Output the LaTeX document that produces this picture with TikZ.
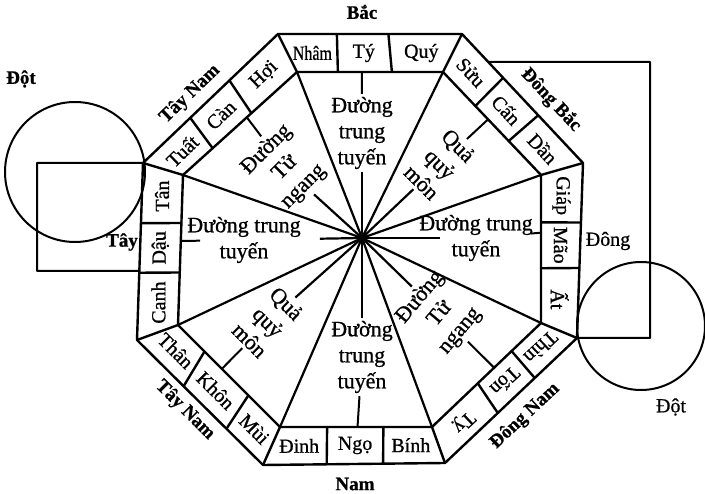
\documentclass[tikz,border=0pt]{standalone}
\usepackage{fontspec}
\setmainfont{Liberation Serif}[FakeBold=0.8]
\usepackage{graphicx}
\usetikzlibrary{calc}
\newcommand\narrow[1]{\scalebox{0.8}[1]{#1}}

\begin{document}
\begin{tikzpicture}[ x=1pt, y=-1pt, line join=round, frame/.style={ line width=2.4pt }, spoke/.style={ line width=2.2pt }, tick/.style={ line width=2pt }, loop/.style={ line width=2pt }, cell/.style={ inner sep=0pt, font=\fontsize{20}{20}\selectfont }, sector/.style={ align=center, inner sep=3pt, font=\fontsize{22}{26}\selectfont }, compass/.style={ font=\fontsize{19}{19}\selectfont\bfseries }, plain/.style={ font=\fontsize{20}{20}\selectfont } ]
\useasboundingbox (0,0) rectangle (705,494);

% --- Dinh bat quai ---
\coordinate (c) at (362,238);
\coordinate (o1) at (278,34); \coordinate (o2) at (462,34); \coordinate (o3) at (583,163); \coordinate (o4) at (577,338);
\coordinate (o5) at (445,463); \coordinate (o6) at (263,465); \coordinate (o7) at (137,340); \coordinate (o8) at (143,163);
\coordinate (i1) at (297,72); \coordinate (i2) at (443,72); \coordinate (i3) at (541,175); \coordinate (i4) at (541,323);
\coordinate (i5) at (432,427); \coordinate (i6) at (280,427); \coordinate (i7) at (178,325); \coordinate (i8) at (183,175);

% --- Khung ---
\draw[frame] (o1) -- (o2) -- (o3) -- (o4) -- (o5) -- (o6) -- (o7) -- (o8) -- cycle;
\draw[frame] (i1) -- (i2) -- (i3) -- (i4) -- (i5) -- (i6) -- (i7) -- (i8) -- cycle;
\foreach \k in {1,...,8} \draw[frame] (i\k) -- (o\k);
\foreach \k in {1,...,8} \draw[spoke] (c) -- (i\k);

% --- O can chi ---
\foreach \A/\B/\P/\Q/\sa/\sb/\ta/\tb/\r/\la/\lb/\lc/\n in { i1/i2/o1/o2/0.28/0.65/0.32/0.60/0/\narrow{Nhâm}/Tý/Quý/n, i2/i3/o2/o3/0.33/0.67/0.34/0.63/-47/Sửu/Cấn/Dần/ne, i3/i4/o3/o4/0.32/0.63/0.34/0.60/-90/Giáp/Mão/Ất/e, i4/i5/o4/o5/0.27/0.58/0.32/0.60/223/Thìn/Tốn/Tỵ/se, i5/i6/o5/o6/0.32/0.69/0.34/0.65/0/Bính/Ngọ/Đinh/s, i6/i7/o6/o7/0.31/0.74/0.29/0.63/-45/Mùi/Khôn/Thân/sw, i7/i8/o7/o8/0.35/0.68/0.38/0.66/90/Canh/Dậu/Tân/w, i8/i1/o8/o1/0.26/0.60/0.35/0.64/44/Tuất/Càn/Hợi/nw }
{
\draw[frame] ($(\A)!\sa!(\B)$) -- ($(\P)!\ta!(\Q)$) ($(\A)!\sb!(\B)$) -- ($(\P)!\tb!(\Q)$);
\node[cell, rotate=\r] (\n-1) at ($($(\A)!{\sa/2}!(\B)$)!.5!($(\P)!{\ta/2}!(\Q)$)$) {\la};
\node[cell, rotate=\r] (\n-2) at ($($(\A)!{(\sa+\sb)/2}!(\B)$)!.5!($(\P)!{(\ta+\tb)/2}!(\Q)$)$) {\lb};
\node[cell, rotate=\r] (\n-3) at ($($(\A)!{(\sb+1)/2}!(\B)$)!.5!($(\P)!{(\tb+1)/2}!(\Q)$)$) {\lc};
}

% --- Duong trung tuyen / tu ngang / qua quy mon ---
\node[sector] (lN) at (362,133) {Đường\\trung\\tuyến};
\node[sector, rotate=-45] (lNE) at (440,164) {Quả\\quỷ\\môn};
\node[sector] (lE) at (476,238) {Đường trung\\tuyến};
\node[sector, rotate=50] (lSE) at (440,314) {Đường\\Tử\\ngang};
\node[sector] (lS) at (362,357) {Đường\\trung\\tuyến};
\node[sector, rotate=-45] (lSW) at (268,322) {Quả\\quỷ\\môn};
\node[sector] (lW) at (244,240) {Đường trung\\tuyến};
\node[sector, rotate=45] (lNW) at (285,168) {Đường\\Tử\\ngang};

\coordinate (tN) at ($(i1)!0.445!(i2)$); \coordinate (tNE) at ($(i2)!0.46!(i3)$); \coordinate (tE) at ($(i3)!0.39!(i4)$); \coordinate (tSE) at ($(i4)!0.43!(i5)$);
\coordinate (tS) at ($(i5)!0.49!(i6)$); \coordinate (tSW) at ($(i6)!0.57!(i7)$); \coordinate (tW) at ($(i7)!0.56!(i8)$); \coordinate (tNW) at ($(i8)!0.56!(i1)$);

\foreach \d in {N,NE,SE,S,SW,NW} { \draw[spoke] (c) -- (l\d); \draw[tick] (t\d) -- (l\d); }
\draw[spoke, shorten >=-24pt] (c) -- (lE); \draw[tick, shorten >=-5pt] (tE) -- (lE);
\draw[spoke, shorten >=16pt] (c) -- (lW); \draw[tick, shorten >=-16pt] (tW) -- (lW);

% --- Dot ---
\coordinate (dl) at (75,172); \coordinate (dr) at (641,326);
\draw[loop] (dl) circle[radius=70];
\draw[loop] (dr) circle[radius=64];
\coordinate (wl) at ($(o7)!0.39!(o8)$); \coordinate (lk1) at (37,163); \coordinate (lk2) at (37,271);
\draw[loop] (o8) -- (lk1) -- (lk2) -- (wl);
\coordinate (nr) at ($(o2)!0.217!(o3)$); \coordinate (rk1) at (650,62); \coordinate (rk2) at (650,338);
\draw[loop] (nr) -- (rk1) -- (rk2) -- (o4);

% --- Huong ---
\node[compass] (bac) at (362,12) {Bắc};
\node[compass] (nam) at (355,484) {Nam};
\node[compass] (tay) at (122,242) {Tây};
\node[plain] (dong) at (608,241) {Đông};
\node[compass, rotate=-47] (dongbac) at (551,100) {Đông Bắc};
\node[compass, rotate=44] (taybac) at (190,94) {Tây Nam};
\node[compass, rotate=-45] (taynam) at (185,410) {Tây Nam};
\node[compass, rotate=43] (dongnam) at (525,416) {Đông Nam};
\node[compass] (dot1) at (21,79) {Đột};
\node[plain] (dot2) at (671,407) {Đột};
\end{tikzpicture}
\end{document}
